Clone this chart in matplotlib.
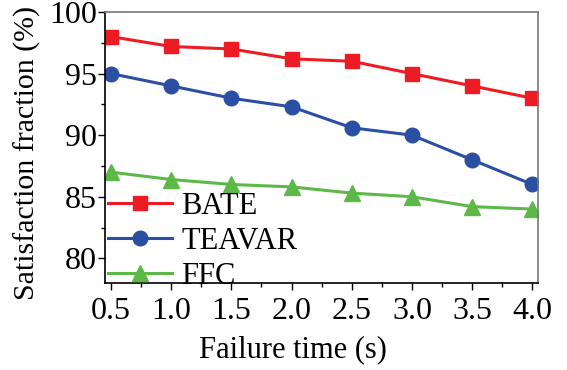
import matplotlib
matplotlib.use("Agg")
import matplotlib.pyplot as plt
from matplotlib.ticker import MultipleLocator

plt.rcParams['font.family'] = ['Liberation Serif', 'DejaVu Serif']

# Data
failure_time = [0.5, 1.0, 1.5, 2.0, 2.5, 3.0, 3.5, 4.0]
bate = [98.0, 97.2, 97.0, 96.2, 96.0, 95.0, 94.0, 93.0]
teavar = [95.0, 94.0, 93.0, 92.3, 90.6, 90.0, 88.0, 86.0]
ffc = [87.0, 86.4, 86.0, 85.8, 85.3, 85.0, 84.2, 84.0]
x_ticks = [0.5, 1.0, 1.5, 2.0, 2.5, 3.0, 3.5, 4.0]
y_ticks = [80, 85, 90, 95, 100]

fig = plt.figure(figsize=(5.67, 3.70), dpi=100)
ax = fig.add_axes([105 / 567, 1 - 283 / 370, (538 - 105) / 567, (283 - 12) / 370])

ax.plot(failure_time, bate, color='#ED1C24', marker='s', markersize=10, lw=2.2, label='BATE')
ax.plot(failure_time, teavar, color='#2B4FA2', marker='o', markersize=10.5, lw=2.2, label='TEAVAR')
ax.plot(failure_time, ffc, color='#5CB947', marker='^', markersize=11, lw=2.2, label='FFC')

ax.set_xlim(0.45, 4.047)
ax.set_ylim(78, 100)
ax.set_xticks(x_ticks)
ax.set_xticklabels([f'{v:.1f}' for v in x_ticks])
ax.set_yticks(y_ticks)
ax.xaxis.set_minor_locator(MultipleLocator(0.25))
ax.yaxis.set_minor_locator(MultipleLocator(2.5))
ax.tick_params(axis='both', which='major', direction='out', length=5, width=1,
               labelsize=23)
ax.tick_params(axis='x', which='major', pad=5)
ax.tick_params(axis='y', which='major', pad=1)
ax.tick_params(axis='both', which='minor', direction='out', length=3, width=1)
ax.tick_params(top=False, right=False)

for side in ['top', 'right']:
    ax.spines[side].set_color('#777777')
for side in ['left', 'bottom']:
    ax.spines[side].set_color('black')
for s in ax.spines.values():
    s.set_linewidth(1.2)

ax.set_xlabel('Failure time (s)', fontsize=22)
ax.xaxis.set_label_coords((293 - 105) / 433, -52 / 271)
ax.set_ylabel('Satisfaction fraction (%)', fontsize=21.5)
ax.yaxis.set_label_coords(-64 / 433, 0.48)

ax.legend(loc='lower left', frameon=False, fontsize=22, handlelength=2.1,
          handletextpad=0.3, labelspacing=0.2, borderaxespad=0.0,
          borderpad=0.1, bbox_to_anchor=(0.0, -0.04))

fig.savefig('out.png', dpi=100)
